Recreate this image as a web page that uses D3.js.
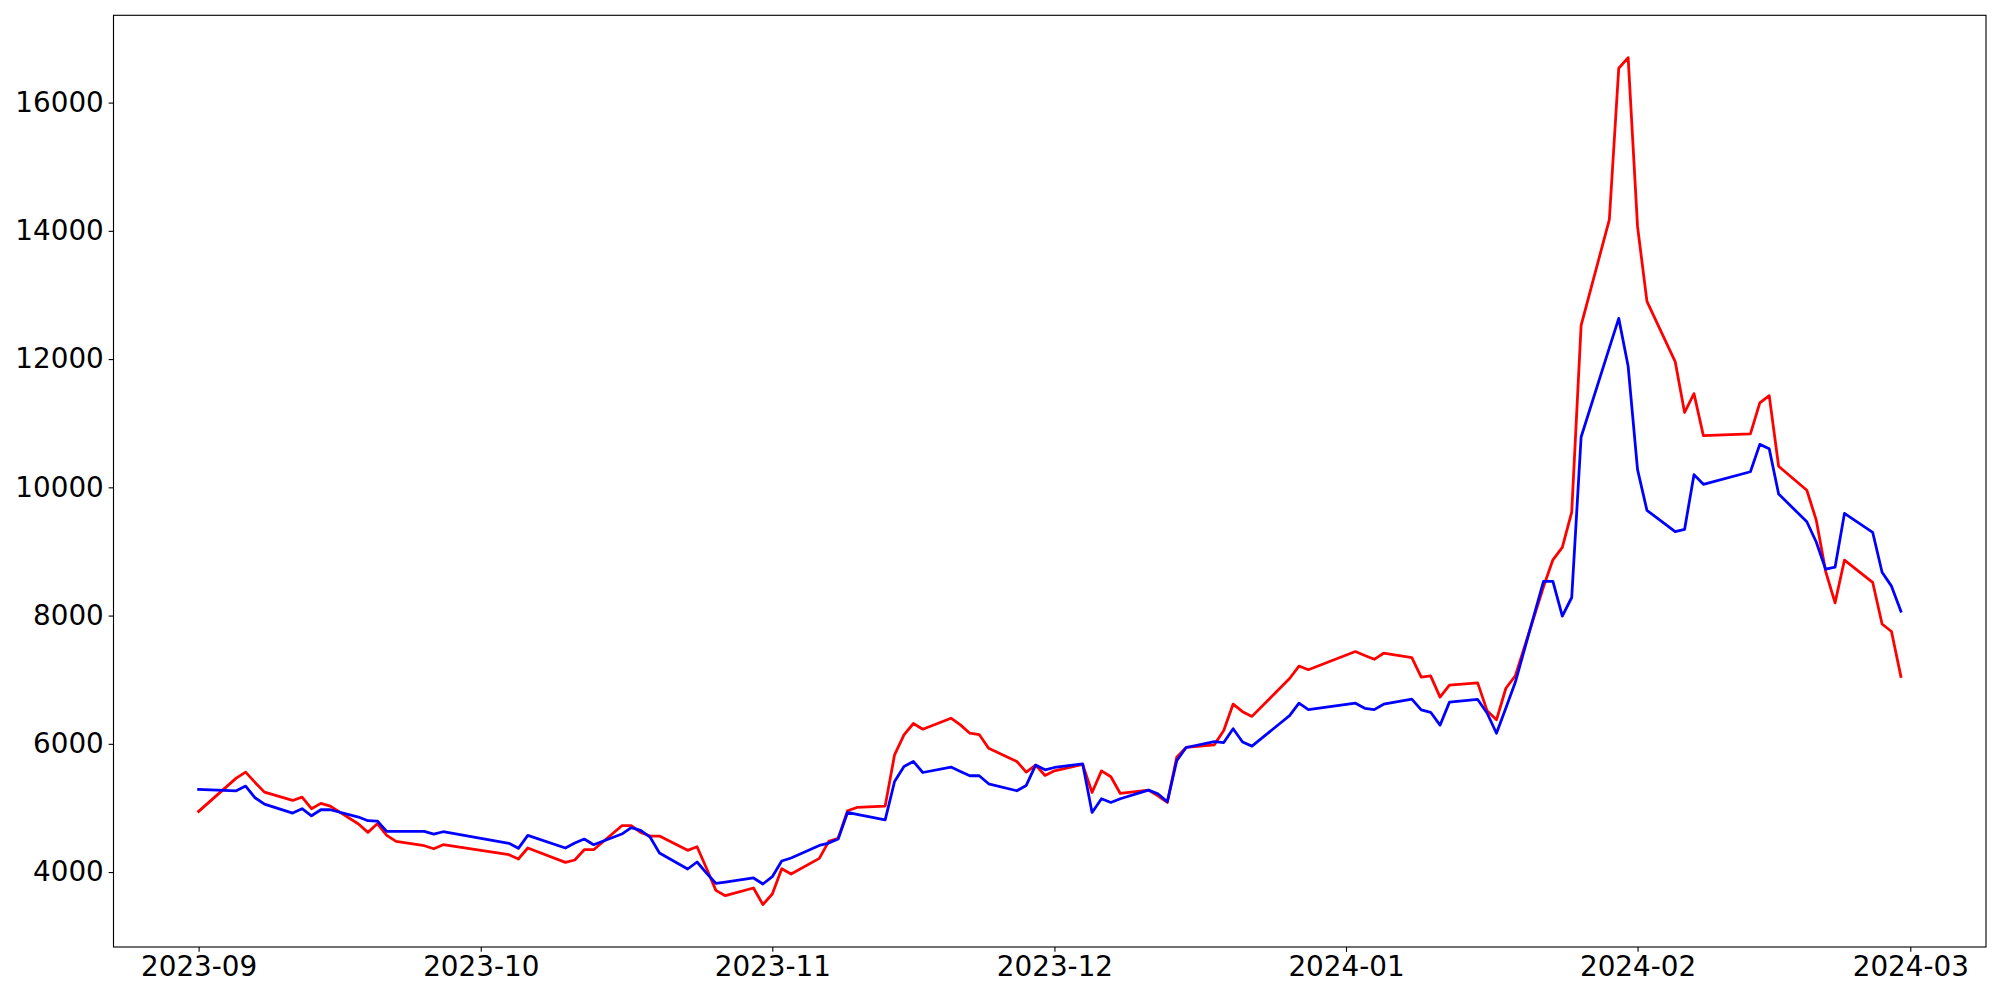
<html>

<head>
    <script src="https://d3js.org/d3.v7.min.js"></script>
    <style>
        body { margin: 0; background: white; }
    </style>
</head>

<body>
    <div id="vis"></div>
</body>

<script>

    // trading dates
    var dates = ["2023-09-01", "2023-09-05", "2023-09-06", "2023-09-07", "2023-09-08",
        "2023-09-11", "2023-09-12", "2023-09-13", "2023-09-14", "2023-09-15",
        "2023-09-18", "2023-09-19", "2023-09-20", "2023-09-21", "2023-09-22",
        "2023-09-25", "2023-09-26", "2023-09-27", "2023-10-04", "2023-10-05", "2023-10-06",
        "2023-10-10", "2023-10-11", "2023-10-12", "2023-10-13",
        "2023-10-16", "2023-10-17", "2023-10-18", "2023-10-19", "2023-10-20",
        "2023-10-23", "2023-10-24", "2023-10-25", "2023-10-26", "2023-10-27",
        "2023-10-30", "2023-10-31", "2023-11-01", "2023-11-02", "2023-11-03",
        "2023-11-06", "2023-11-07", "2023-11-08", "2023-11-09", "2023-11-10",
        "2023-11-13", "2023-11-14", "2023-11-15", "2023-11-16", "2023-11-17",
        "2023-11-20", "2023-11-21", "2023-11-22", "2023-11-23", "2023-11-24",
        "2023-11-27", "2023-11-28", "2023-11-29", "2023-11-30", "2023-12-01",
        "2023-12-04", "2023-12-05", "2023-12-06", "2023-12-07", "2023-12-08",
        "2023-12-11", "2023-12-12", "2023-12-13", "2023-12-14", "2023-12-15",
        "2023-12-18", "2023-12-19", "2023-12-20", "2023-12-21", "2023-12-22",
        "2023-12-25", "2023-12-26", "2023-12-27", "2023-12-28",
        "2024-01-02", "2024-01-03", "2024-01-04", "2024-01-05",
        "2024-01-08", "2024-01-09", "2024-01-10", "2024-01-11", "2024-01-12",
        "2024-01-15", "2024-01-16", "2024-01-17", "2024-01-18", "2024-01-19",
        "2024-01-22", "2024-01-23", "2024-01-24", "2024-01-25", "2024-01-26",
        "2024-01-29", "2024-01-30", "2024-01-31", "2024-02-01", "2024-02-02",
        "2024-02-05", "2024-02-06", "2024-02-07", "2024-02-08",
        "2024-02-13", "2024-02-14", "2024-02-15", "2024-02-16",
        "2024-02-19", "2024-02-20", "2024-02-21", "2024-02-22", "2024-02-23",
        "2024-02-26", "2024-02-27", "2024-02-28", "2024-02-29"];

    var redValues = [4946, 5465, 5559, 5398, 5247,
        5117, 5169, 4988, 5071, 5029,
        4749, 4619, 4754, 4572, 4479,
        4411, 4364, 4427, 4271, 4204, 4375,
        4152, 4188, 4349, 4349,
        4723, 4726, 4619, 4562, 4562,
        4339, 4396, 4060, 3715, 3632,
        3752, 3492, 3658, 4053, 3970,
        4214, 4479, 4525, 4956, 5008,
        5030, 5829, 6140, 6317, 6228,
        6400, 6296, 6166, 6145, 5932,
        5725, 5559, 5668, 5507, 5579,
        5678, 5242, 5579, 5486, 5226,
        5278, 5190, 5086, 5792, 5943,
        5984, 6208, 6620, 6502, 6428,
        6871, 7019, 7213, 7156,
        7439, 7377, 7318, 7413,
        7344, 7039, 7059, 6729, 6917,
        6950, 6517, 6374, 6867, 7059,
        8450, 8870, 9065, 9614, 12525,
        14176, 16536, 16701, 14065, 12899,
        11961, 11167, 11462, 10807,
        10833, 11318, 11430, 10329,
        9955, 9489, 8690, 8198, 8866,
        8519, 7869, 7752, 7050];

    var blueValues = [5289, 5268, 5341, 5159, 5060,
        4920, 4988, 4878, 4972, 4972,
        4858, 4801, 4796, 4634, 4634,
        4634, 4593, 4629, 4448, 4370, 4572,
        4375, 4453, 4515, 4427,
        4593, 4692, 4650, 4546, 4297,
        4048, 4157, 3985, 3824, 3845,
        3908, 3814, 3928, 4172, 4219,
        4416, 4453, 4515, 4930, 4900,
        4813, 5413, 5647, 5725, 5553,
        5637, 5569, 5502, 5502, 5377,
        5268, 5351, 5668, 5595, 5631,
        5688, 4930, 5143, 5086, 5143,
        5278, 5221, 5097, 5735, 5943,
        6036, 6020, 6236, 6028, 5964,
        6321, 6439, 6634, 6534,
        6634, 6554, 6534, 6618,
        6696, 6530, 6492, 6291, 6650,
        6692, 6481, 6165, 6560, 6960,
        8534, 8534, 7992, 8282, 10785,
        12175, 12635, 11888, 10276, 9640,
        9311, 9344, 10198, 10047,
        10243, 10670, 10603, 9896,
        9463, 9148, 8723, 8755, 9593,
        9299, 8676, 8459, 8067];

    var yTicks = [4000, 6000, 8000, 10000, 12000, 14000, 16000];

    // figure and axes box (matplotlib style, 20x10 in @ 100 dpi)
    var W = 2000, H = 1000;
    var axLeft = 113.5, axRight = 1986, axTop = 15.3, axBottom = 947;
    var tickLen = 4.86, lw = 2.78;

    var parse = d3.timeParse("%Y-%m-%d");
    var data = dates.map(function (d, i) {
        return { date: parse(d), red: redValues[i], blue: blueValues[i] };
    });

    var svg = d3.select("#vis")
        .append("svg")
        .attr("width", W)
        .attr("height", H)
        .style("font-family", "'DejaVu Sans', sans-serif");

    svg.append("rect").attr("width", W).attr("height", H).attr("fill", "white");

    // x: 5% padding on each side like matplotlib autoscale
    var t0 = data[0].date, t1 = data[data.length - 1].date;
    var pad = (t1 - t0) * 0.05;
    var x = d3.scaleTime()
        .domain([new Date(+t0 - pad), new Date(+t1 + pad)])
        .range([axLeft, axRight]);

    var all = redValues.concat(blueValues);
    var vmin = d3.min(all), vmax = d3.max(all);
    var vpad = (vmax - vmin) * 0.05;
    var y = d3.scaleLinear()
        .domain([vmin - vpad, vmax + vpad])
        .range([axBottom, axTop]);

    var line = function (key) {
        return d3.line()
            .x(function (d) { return x(d.date); })
            .y(function (d) { return y(d[key]); });
    };

    svg.append("path")
        .datum(data)
        .attr("d", line("red"))
        .attr("fill", "none")
        .attr("stroke", "#ff0000")
        .attr("stroke-width", lw)
        .attr("stroke-linejoin", "round")
        .attr("stroke-linecap", "square");

    svg.append("path")
        .datum(data)
        .attr("d", line("blue"))
        .attr("fill", "none")
        .attr("stroke", "#0000ff")
        .attr("stroke-width", lw)
        .attr("stroke-linejoin", "round")
        .attr("stroke-linecap", "square");

    // x axis
    var xAxis = svg.append("g")
        .attr("transform", "translate(0," + axBottom + ")")
        .call(d3.axisBottom(x)
            .ticks(d3.timeMonth.every(1))
            .tickFormat(d3.timeFormat("%Y-%m"))
            .tickSize(tickLen)
            .tickPadding(tickLen)
            .tickSizeOuter(0));

    // y axis
    var yAxis = svg.append("g")
        .attr("transform", "translate(" + axLeft + ",0)")
        .call(d3.axisLeft(y)
            .tickValues(yTicks)
            .tickFormat(d3.format("d"))
            .tickSize(tickLen)
            .tickPadding(tickLen)
            .tickSizeOuter(0));

    [xAxis, yAxis].forEach(function (g) {
        g.select(".domain").remove();
        g.selectAll("line").attr("stroke", "black").attr("stroke-width", 1.11);
        g.selectAll("text")
            .attr("fill", "black")
            .style("font-family", "'DejaVu Sans', sans-serif")
            .style("font-size", "27.8px");
    });

    // axes frame
    svg.append("rect")
        .attr("x", axLeft)
        .attr("y", axTop)
        .attr("width", axRight - axLeft)
        .attr("height", axBottom - axTop)
        .attr("fill", "none")
        .attr("stroke", "black")
        .attr("stroke-width", 1.11);

</script>

</html>
